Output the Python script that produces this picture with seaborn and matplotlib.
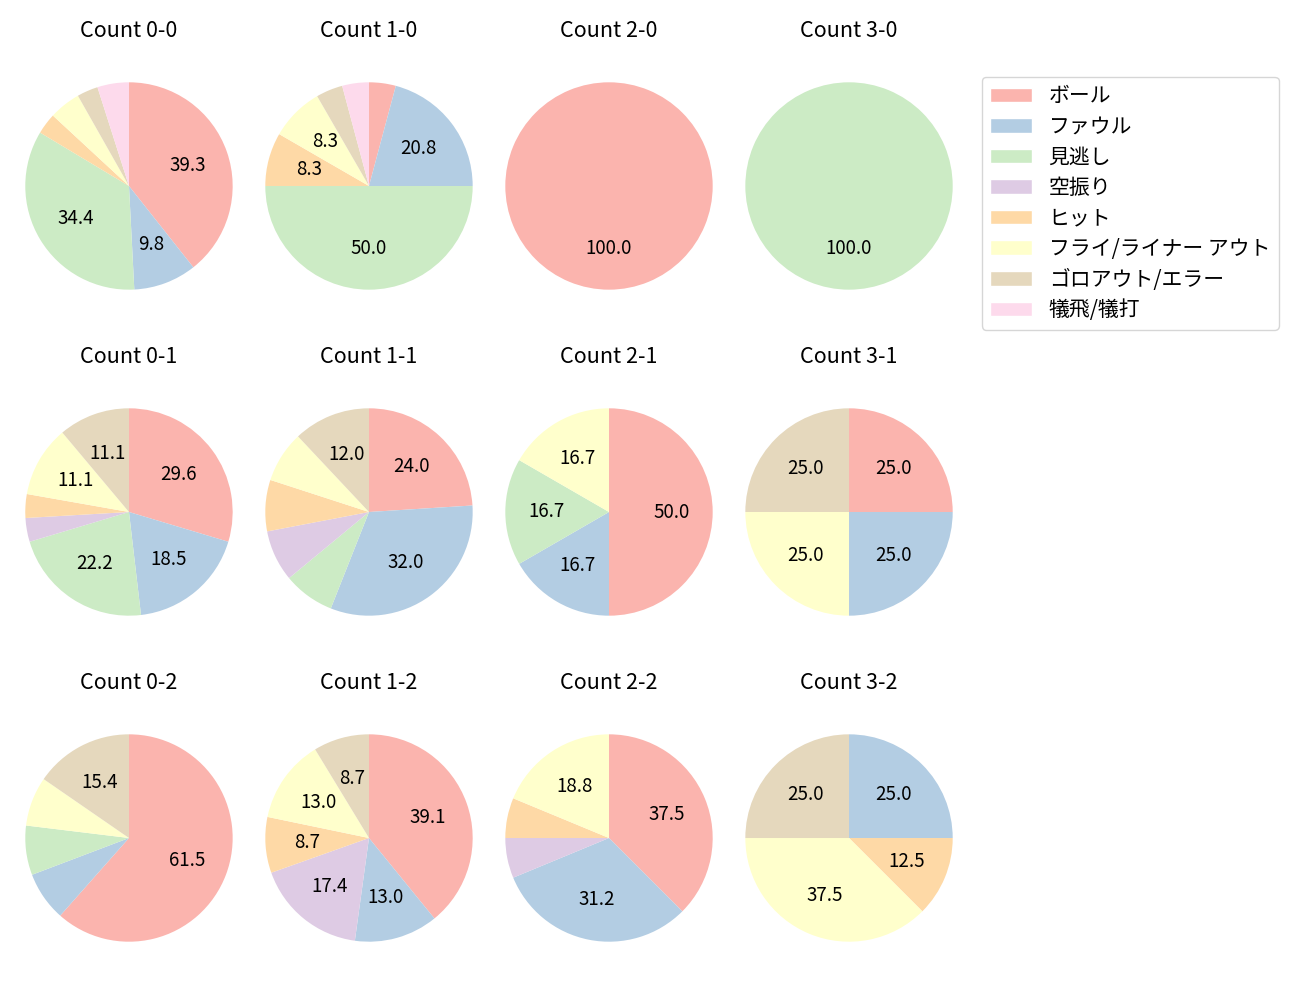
import numpy as np
import pandas as pd
import seaborn as sns
import matplotlib.pyplot as plt
from matplotlib.patches import Patch

sns.set_theme(style="white", rc={'text.color': 'black'})
plt.rcParams['font.family'] = ['Noto Sans CJK JP', 'DejaVu Sans']

# pitch result categories (legend order)
categories = ['ボール', 'ファウル', '見逃し', '空振り', 'ヒット',
              'フライ/ライナー アウト', 'ゴロアウト/エラー', '犠飛/犠打']

# counts per ball-strike situation, in category order
count_0_0 = [24, 6, 21, 0, 2, 3, 2, 3]
count_1_0 = [1, 5, 12, 0, 2, 2, 1, 1]
count_2_0 = [1, 0, 0, 0, 0, 0, 0, 0]
count_3_0 = [0, 0, 1, 0, 0, 0, 0, 0]
count_0_1 = [8, 5, 6, 1, 1, 3, 3, 0]
count_1_1 = [6, 8, 2, 2, 2, 2, 3, 0]
count_2_1 = [3, 1, 1, 0, 0, 1, 0, 0]
count_3_1 = [1, 1, 0, 0, 0, 1, 1, 0]
count_0_2 = [8, 1, 1, 0, 0, 1, 2, 0]
count_1_2 = [9, 3, 0, 4, 2, 3, 2, 0]
count_2_2 = [6, 5, 0, 1, 1, 3, 0, 0]
count_3_2 = [0, 2, 0, 0, 1, 3, 2, 0]

# rows = strikes, columns = balls
grid = [
    [('0-0', count_0_0), ('1-0', count_1_0), ('2-0', count_2_0), ('3-0', count_3_0)],
    [('0-1', count_0_1), ('1-1', count_1_1), ('2-1', count_2_1), ('3-1', count_3_1)],
    [('0-2', count_0_2), ('1-2', count_1_2), ('2-2', count_2_2), ('3-2', count_3_2)],
]

colors = sns.color_palette('Pastel1', 9)[:8]

fig, axes = plt.subplots(3, 4, figsize=(13, 10))
fig.subplots_adjust(left=0.0069, right=0.7454, top=0.944, bottom=0.032,
                    wspace=0.0, hspace=0.254)

for r, row in enumerate(grid):
    for c, (name, vals) in enumerate(row):
        ax = axes[r, c]
        df = pd.DataFrame({'cat': categories, 'n': vals, 'color': colors})
        df = df[df['n'] > 0]
        ax.pie(df['n'], colors=df['color'], startangle=90, counterclock=False,
               radius=1.08, wedgeprops={'linewidth': 0},
               autopct=lambda p: f'{p:.1f}' if p > 8.05 else '',
               textprops={'fontsize': 13.5, 'color': 'black'})
        ax.set_title(f'Count {name}', fontsize=15.5, pad=21, color='black')

handles = [Patch(facecolor=col, label=lab) for col, lab in zip(colors, categories)]
fig.legend(handles=handles, loc='upper left', bbox_to_anchor=(982 / 1300, 1 - 77 / 1000),
           fontsize=15, labelspacing=0.41, borderaxespad=0, frameon=True)

plt.savefig('out.png', dpi=100)
